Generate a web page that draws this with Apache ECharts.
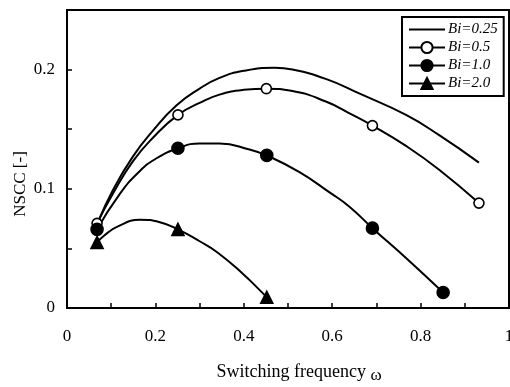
<!DOCTYPE html>
<html>
<head>
<meta charset="utf-8">
<script src="https://cdn.jsdelivr.net/npm/echarts@6/dist/echarts.min.js"></script>
<style>
html,body{margin:0;padding:0;background:#fff;overflow:hidden;}
#chart{width:510px;height:387px;}
</style>
</head>
<body>
<div id="chart"></div>
<script>
// ---- data ----
const seriesNames = ['Bi=0.25', 'Bi=0.5', 'Bi=1.0', 'Bi=2.0'];

const bi025Curve = [[0.07,0.072],[0.104,0.099],[0.149,0.127],[0.195,0.149],[0.248,0.170],[0.30,0.184],[0.345,0.193],[0.40,0.199],[0.47,0.2015],[0.51,0.200],[0.587,0.192],[0.661,0.180],[0.767,0.162],[0.842,0.145],[0.932,0.122]];
const bi05Curve = [[0.068,0.071],[0.104,0.096],[0.149,0.123],[0.195,0.143],[0.251,0.162],[0.30,0.172],[0.345,0.179],[0.40,0.183],[0.451,0.184],[0.51,0.182],[0.587,0.173],[0.646,0.162],[0.691,0.153],[0.767,0.136],[0.842,0.116],[0.932,0.088]];
const bi10Curve = [[0.068,0.066],[0.12,0.096],[0.165,0.115],[0.20,0.125],[0.251,0.134],[0.30,0.138],[0.345,0.138],[0.413,0.133],[0.452,0.128],[0.526,0.114],[0.594,0.097],[0.639,0.085],[0.691,0.067],[0.767,0.042],[0.851,0.013]];
const bi20Curve = [[0.068,0.055],[0.085,0.061],[0.113,0.068],[0.165,0.074],[0.21,0.072],[0.251,0.066],[0.30,0.056],[0.339,0.047],[0.397,0.029],[0.436,0.015],[0.452,0.009]];

const bi05Markers = [[0.068,0.071],[0.251,0.162],[0.451,0.184],[0.691,0.153],[0.932,0.088]];
const bi10Markers = [[0.068,0.066],[0.251,0.134],[0.452,0.128],[0.691,0.067],[0.851,0.013]];
const bi20Markers = [[0.068,0.055],[0.251,0.066],[0.452,0.009]];

const xTickLabels = ['0', '0.2', '0.4', '0.6', '0.8', '1'];
const yTickLabels = ['0', '0.1', '0.2'];

const xTitle = 'Switching frequency';
const yTitle = 'NSCC [-]';

// ---- chart ----
const serif = 'Liberation Serif';
const chart = echarts.init(document.getElementById('chart'));

function fmtX(v){
  const k = Math.round(v * 10);
  return (k % 2 === 0) ? (xTickLabels[k / 2] || '') : '';
}
function fmtY(v){
  const k = Math.round(v * 20);
  return (k % 2 === 0) ? (yTickLabels[k / 2] || '') : '';
}

function curve(name, data, symbol, size, fill){
  return {
    name: name, type: 'line', data: data, smooth: 0.5,
    symbol: symbol, symbolSize: size, showSymbol: false,
    lineStyle: {color: '#000', width: 2},
    itemStyle: {color: fill, borderColor: '#000', borderWidth: 1.5},
    silent: true, z: 2
  };
}
function marks(name, data, symbol, size, fill){
  return {
    name: name, type: 'scatter', data: data, symbol: symbol, symbolSize: size,
    itemStyle: {color: fill, borderColor: '#000', borderWidth: 1.6, opacity: 1},
    silent: true, z: 3
  };
}

chart.setOption({
  animation: false,
  backgroundColor: '#fff',
  grid: {left: 67, top: 10, right: 1, bottom: 79, containLabel: false, outerBoundsMode: 'none',
         show: true, borderColor: '#000', borderWidth: 2, backgroundColor: 'transparent'},
  legend: {
    data: [
      {name: seriesNames[0], itemStyle: {opacity: 0}},
      seriesNames[1], seriesNames[2], seriesNames[3]
    ],
    orient: 'vertical',
    left: 402, top: 17,
    padding: [5, 6, 5, 6],
    itemGap: 3,
    itemWidth: 36, itemHeight: 14,
    borderColor: '#000', borderWidth: 2,
    backgroundColor: '#fff',
    textStyle: {fontFamily: serif, fontStyle: 'italic', fontSize: 15, color: '#000', padding: [0,0,0,-2]},
    inactiveColor: '#000'
  },
  xAxis: {
    type: 'value', min: 0, max: 1, interval: 0.1,
    name: xTitle + ' {w|ω}',
    nameLocation: 'middle', nameGap: 53, nameMoveOverlap: false,
    nameTextStyle: {fontFamily: serif, fontSize: 18, color: '#000', padding: [0, 0, 0, 22],
      rich: {w: {fontFamily: serif, fontSize: 17, color: '#000', padding: [6, 0, 0, 0]}}},
    axisLine: {show: true, lineStyle: {color: '#000', width: 2}},
    axisTick: {show: true, inside: true, length: 5, lineStyle: {color: '#000', width: 1.5}},
    axisLabel: {formatter: fmtX, fontFamily: serif, fontSize: 17, color: '#000', margin: 20, showMaxLabel: true},
    splitLine: {show: false}
  },
  yAxis: {
    type: 'value', min: 0, max: 0.25, interval: 0.05,
    name: yTitle,
    nameLocation: 'middle', nameGap: 38, nameRotate: 90, nameMoveOverlap: false,
    nameTextStyle: {fontFamily: serif, fontSize: 17, color: '#000', padding: [0, 50, 0, 0]},
    axisLine: {show: true, lineStyle: {color: '#000', width: 2}},
    axisTick: {show: true, inside: true, length: 5, lineStyle: {color: '#000', width: 1.5}},
    axisLabel: {formatter: fmtY, fontFamily: serif, fontSize: 17, color: '#000', margin: 12},
    splitLine: {show: false}
  },
  series: [
    curve(seriesNames[0], bi025Curve, 'none', 0, '#000'),
    curve(seriesNames[1], bi05Curve, 'circle', 10, '#fff'),
    curve(seriesNames[2], bi10Curve, 'circle', 11, '#000'),
    curve(seriesNames[3], bi20Curve, 'triangle', 11, '#000'),
    marks('m05', bi05Markers, 'circle', 10, '#fff'),
    marks('m10', bi10Markers, 'circle', 12, '#000'),
    marks('m20', bi20Markers, 'triangle', 12, '#000')
  ]
});
</script>
</body>
</html>
